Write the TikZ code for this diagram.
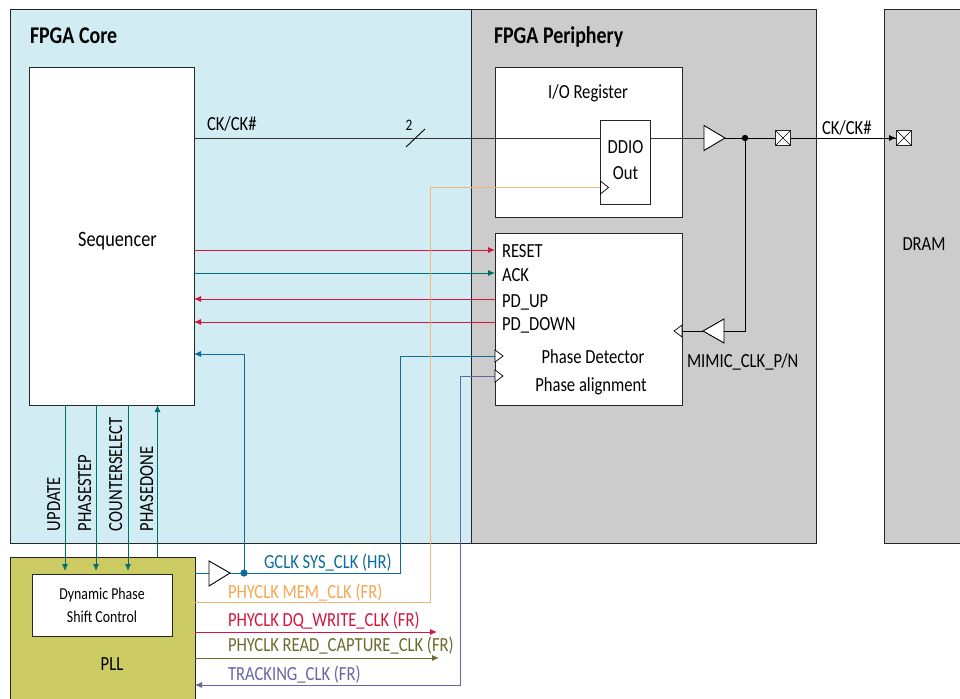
\documentclass[tikz,border=0pt]{standalone}
\usepackage{fontspec}
\setmainfont[FakeStretch=0.83]{Carlito}
\usetikzlibrary{arrows.meta}
\definecolor{coreblue}{HTML}{D2ECF3}
\definecolor{perigray}{HTML}{CCCCCC}
\definecolor{pllcol}{HTML}{CDCB63}
\definecolor{cteal}{HTML}{006F6C}
\definecolor{cred}{HTML}{D3163F}
\definecolor{cblue}{HTML}{0B6C9E}
\definecolor{corange}{HTML}{F8A54F}
\definecolor{corangew}{HTML}{F4B478}
\definecolor{colive}{HTML}{6A6B2B}
\definecolor{cpurple}{HTML}{6765A5}
\tikzset{
  x=1pt,y=-1pt,
  every node/.style={inner sep=0pt,outer sep=0pt},
  region/.style={draw=black!85,line width=1pt},
  whitebox/.style={draw=black!85,fill=white,line width=1pt},
  lbl/.style={font=\fontsize{20}{22}\selectfont,text=black},
  lblsm/.style={font=\fontsize{16.7}{20}\selectfont,text=black},
  title/.style={font=\fontsize{24}{26}\selectfont\bfseries,text=black},
  wire/.style={line width=0.9pt},
  arr/.style={wire,-{Latex[length=7pt,width=6pt]}},
  buf/.style={draw=black,fill=white,line width=0.9pt},
  clk/.style={draw=black,fill=white,line width=0.7pt}
}
\begin{document}
\begin{tikzpicture}
\useasboundingbox (0,0) rectangle (960,698);
% regions
\fill[coreblue] (10,10) rectangle (471,543);
\fill[perigray] (471,10) rectangle (816,543);
\fill[perigray] (884,10) rectangle (962,543);
\draw[region] (10,10) rectangle (471,543);
\draw[region] (471,10) rectangle (816,543);
\draw[region] (962,10) -- (884,10) -- (884,543) -- (962,543);
\fill[pllcol] (10,557) rectangle (195,700);
\draw[region] (10,700) -- (10,557) -- (195,557) -- (195,700);
% boxes
\draw[whitebox] (29.5,68) rectangle (194,405);
\draw[whitebox] (495,68) rectangle (682,217);
\draw[whitebox] (495,233) rectangle (682,405);
\draw[whitebox] (32,574) rectangle (172,636);
% named anchor points
\coordinate (seqCK) at (194,138);
\coordinate (ddioIn) at (600.5,138);
\coordinate (ddioOut) at (650.5,138);
\coordinate (bufIn) at (704,138);
\coordinate (bufOut) at (725,138);
\coordinate (tap) at (745,138);
\coordinate (padA) at (775,138);
\coordinate (padAo) at (791,138);
\coordinate (padB) at (896,138);
\coordinate (mimBend) at (745,331);
\coordinate (mimIn) at (724,331);
\coordinate (mimOut) at (703,331);
\coordinate (pdIn) at (682,331);
\coordinate (seqReset) at (194,250);
\coordinate (pdReset) at (495,250);
\coordinate (seqAck) at (194,273);
\coordinate (pdAck) at (495,273);
\coordinate (seqUp) at (194,299);
\coordinate (pdUp) at (495,299);
\coordinate (seqDn) at (194,322);
\coordinate (pdDn) at (495,322);
\coordinate (seqG) at (194,354);
\coordinate (gBend) at (244,354);
\coordinate (gDot) at (244,573);
\coordinate (pllG) at (195,573);
\coordinate (gbufIn) at (209,573);
\coordinate (gbufOut) at (230,573);
\coordinate (gCorner) at (400,573);
\coordinate (gTop) at (400,356);
\coordinate (pdG) at (495,356);
\coordinate (pllMem) at (195,602);
\coordinate (mBot) at (430,602);
\coordinate (mTop) at (430,187);
\coordinate (ddioClk) at (600.5,187);
\coordinate (pllDq) at (195,632);
\coordinate (dqEnd) at (437,632);
\coordinate (pllRc) at (195,658);
\coordinate (rcEnd) at (439,658);
\coordinate (pdT) at (495,376);
\coordinate (tTop) at (460,376);
\coordinate (tBot) at (460,685);
\coordinate (pllT) at (195,685);
\coordinate (sU) at (65,405);
\coordinate (dU) at (65,571);
\coordinate (sP) at (96,405);
\coordinate (dP) at (96,571);
\coordinate (sC) at (128,405);
\coordinate (dC) at (128,571);
\coordinate (sD) at (157.5,405);
\coordinate (pD) at (157.5,557);
% CK wires
\draw[wire,black!80] (seqCK) -- (ddioIn);
\draw[wire] (406,147) -- (425,129);
\draw[whitebox] (600.5,121) rectangle (650.5,204);
\draw[wire,black!80] (ddioOut) -- (bufIn);
\draw[wire] (bufOut) -- (padA);
\draw[wire] (padAo) -- (896,138);
\draw[arr] (padAo) -- (padB);
% mimic
\draw[wire] (tap) -- (mimBend) -- (mimIn);
\draw[wire] (mimOut) -- (pdIn);
% control wires
\draw[arr,cred] (seqReset) -- (pdReset);
\draw[arr,cteal] (seqAck) -- (pdAck);
\draw[arr,cred] (pdUp) -- (seqUp);
\draw[arr,cred] (pdDn) -- (seqDn);
% clocks
\draw[arr,cblue] (gDot) -- (gBend) -- (seqG);
\draw[wire,cblue] (pllG) -- (gbufIn);
\draw[wire,cblue] (gbufOut) -- (gCorner) -- (gTop) -- (pdG);
\fill[cblue] (gDot) circle (3.6pt);
\draw[wire,corangew] (pllMem) -- (mBot) -- (mTop) -- (ddioClk);
\draw[arr,cred] (pllDq) -- (dqEnd);
\draw[arr,colive] (pllRc) -- (rcEnd);
\draw[arr,cpurple] (pdT) -- (tTop) -- (tBot) -- (pllT);
% PLL control
\draw[arr,cteal] (sU) -- (dU);
\draw[arr,cteal] (sP) -- (dP);
\draw[arr,cteal] (sC) -- (dC);
\draw[arr,cteal] (pD) -- (sD);
% buffers
\draw[buf] (704,125.5) -- (725,138) -- (704,150.5) -- cycle;
\draw[buf] (724,319) -- (703,331) -- (724,343) -- cycle;
\draw[buf] (209,561) -- (230,573) -- (209,586) -- cycle;
\fill[black] (tap) circle (3.2pt);
% pads
\draw[whitebox,fill=white] (775.5,130.5) rectangle (790.5,145.5);
\draw[line width=0.6pt] (775.5,130.5) -- (790.5,145.5) (775.5,145.5) -- (790.5,130.5);
\draw[whitebox,fill=white] (896.5,130.5) rectangle (911.5,145.5);
\draw[line width=0.6pt] (896.5,130.5) -- (911.5,145.5) (896.5,145.5) -- (911.5,130.5);
% clock triangles
\draw[clk] (600.5,181) -- (608.5,187.5) -- (600.5,194) -- cycle;
\draw[clk] (495,350) -- (503,356) -- (495,362) -- cycle;
\draw[clk] (495,370) -- (503,376) -- (495,382) -- cycle;
\draw[clk] (682,325) -- (674,331) -- (682,337) -- cycle;
% texts
\node[title,anchor=base west] (tCore) at (30,44) {FPGA Core};
\node[title,anchor=base west] (tPeri) at (494,44) {FPGA Periphery};
\node[lbl,font=\fontsize{22}{24}\selectfont] (tSeq) at (117.5,241) {Sequencer};
\node[lbl,anchor=base] (tIO) at (588,99) {I/O Register};
\node[lbl,anchor=base] (tD1) at (625.5,153) {DDIO};
\node[lbl,anchor=base] (tD2) at (625.5,179) {Out};
\node[lbl,anchor=base] (tDram) at (924,250) {DRAM};
\node[lbl,anchor=base west] (tCK1) at (207,131) {CK/CK\#};
\node[lblsm,anchor=base,font=\fontsize{16}{18}\selectfont] (tTwo) at (409,131) {2};
\node[lbl,anchor=base west] (tCK2) at (822,134) {CK/CK\#};
\node[lbl,anchor=base west] (tRst) at (502,257) {RESET};
\node[lbl,anchor=base west] (tAck) at (502,281) {ACK};
\node[lbl,anchor=base west] (tUp) at (502,307) {PD\_UP};
\node[lbl,anchor=base west] (tDn) at (502,330) {PD\_DOWN};
\node[lbl,anchor=base] (tPD) at (593,363) {Phase Detector};
\node[lbl,anchor=base] (tPA) at (591,391) {Phase alignment};
\node[lbl,anchor=base west] (tMim) at (687,367) {MIMIC\_CLK\_P/N};
\node[lblsm,anchor=base] (tDy) at (102,599) {Dynamic Phase};
\node[lblsm,anchor=base] (tSh) at (102,622) {Shift Control};
\node[lbl,anchor=base] (tPll) at (112,670) {PLL};
\node[lbl,rotate=90,anchor=base west] (tUpd) at (60,531) {UPDATE};
\node[lbl,rotate=90,anchor=base west] (tPs) at (91,531) {PHASESTEP};
\node[lbl,rotate=90,anchor=base west] (tCs) at (122,531) {COUNTERSELECT};
\node[lbl,rotate=90,anchor=base west] (tPdn) at (153,531) {PHASEDONE};
\node[lbl,anchor=base west,text=cblue] (tG) at (264,568) {GCLK SYS\_CLK (HR)};
\node[lbl,anchor=base west,text=corange] (tM) at (228,598) {PHYCLK MEM\_CLK (FR)};
\node[lbl,anchor=base west,text=cred] (tQ) at (228,626) {PHYCLK DQ\_WRITE\_CLK (FR)};
\node[lbl,anchor=base west,text=colive] (tR) at (228,651) {PHYCLK READ\_CAPTURE\_CLK (FR)};
\node[lbl,anchor=base west,text=cpurple] (tT) at (228,680) {TRACKING\_CLK (FR)};
\end{tikzpicture}
\end{document}
